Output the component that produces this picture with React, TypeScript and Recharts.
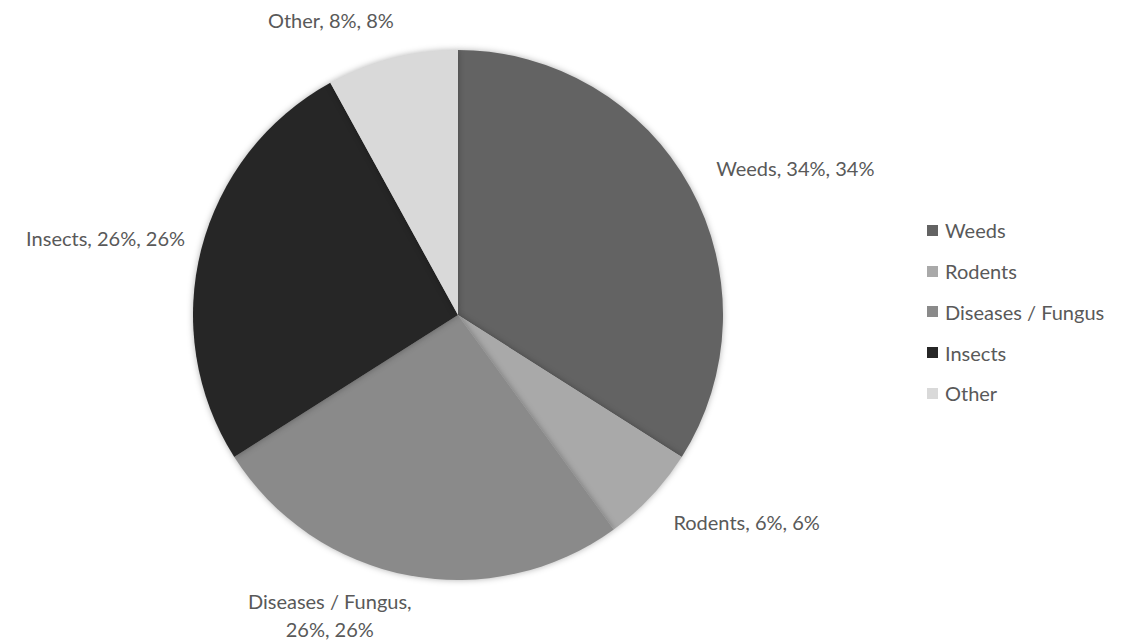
import { Legend, Pie, PieChart, Cell } from 'recharts';

const names = ['Weeds', 'Rodents', 'Diseases / Fungus', 'Insects', 'Other'];
const shares = [34, 6, 26, 26, 8];
const colors = ['#636363', '#a9a9a9', '#8a8a8a', '#262626', '#d9d9d9'];

const data = names.map((name, i) => ({ name, value: shares[i] }));

const FONT = 'Lato, "Noto Sans", sans-serif';
const LABEL_SIZE = 20;
const RADIAN = Math.PI / 180;

let ctx: CanvasRenderingContext2D | null = null;
function textWidth(s: string) {
  if (!ctx) ctx = document.createElement('canvas').getContext('2d');
  if (!ctx) return s.length * 9;
  ctx.font = `${LABEL_SIZE}px ${FONT}`;
  return ctx.measureText(s).width;
}

function renderLabel(props: any) {
  const { cx, cy, midAngle, outerRadius, name, value, percent } = props;
  const pct = `${Math.round(percent * 100)}%`;
  const full = `${name}, ${value}%, ${pct}`;
  const lines = textWidth(full) > 210 ? [`${name},`, `${value}%, ${pct}`] : [full];
  const w = Math.max(...lines.map(textWidth));
  const lh = 28;
  const cos = Math.cos(-midAngle * RADIAN);
  const sin = Math.sin(-midAngle * RADIAN);
  const r = outerRadius + 25;
  const ax = cx + r * cos;
  const ay = cy + r * sin;
  const left = cos >= 0 ? ax + 4 : ax - w + 8;
  // wrapped labels sit a little closer to the pie
  const firstY = lines.length > 1
    ? (sin > 0 ? ay + sin * lh / 2 - 12 : ay + sin * lh / 2 - (lines.length - 1) * lh + 12)
    : ay + sin * lh / 2;
  return <text fill="#595959" fontSize={LABEL_SIZE} fontFamily={FONT} textAnchor="middle">
    {lines.map((l, i) => <tspan key={i} x={left + w / 2} y={firstY + lh * i + 7}>{l}</tspan>)}
  </text>;
}

function LegendBox() {
  return <div style={{ fontFamily: FONT, fontSize: 20, color: '#595959' }}>
    {names.map((n, i) => <div key={n} style={{ display: 'flex', alignItems: 'center', height: 40.75 }}>
      <span style={{ width: 11, height: 11, background: colors[i], display: 'inline-block', marginRight: 7 }} />
      {n}
    </div>)}
  </div>;
}

export default function App() {
  return <div style={{ position: 'absolute', left: 0, top: 0, background: '#fff' }}>
    <style>{`.recharts-pie-sector path { filter: drop-shadow(0 0 3px rgba(0,0,0,0.3)); }`}</style>
    <PieChart width={1135} height={640} margin={{ top: 0, right: 0, bottom: 0, left: 0 }}>
      <Pie
        data={data}
        dataKey="value"
        nameKey="name"
        cx={458}
        cy={315}
        outerRadius={265}
        startAngle={90}
        endAngle={-270}
        stroke="none"
        label={renderLabel}
        labelLine={false}
        isAnimationActive={false}
      >
        {data.map((d, i) => <Cell key={d.name} fill={colors[i]} />)}
      </Pie>
      <Legend
        layout="vertical"
        align="right"
        verticalAlign="top"
        content={<LegendBox />}
        wrapperStyle={{ left: 927, top: 210, width: 210 }}
      />
    </PieChart>
  </div>;
}
